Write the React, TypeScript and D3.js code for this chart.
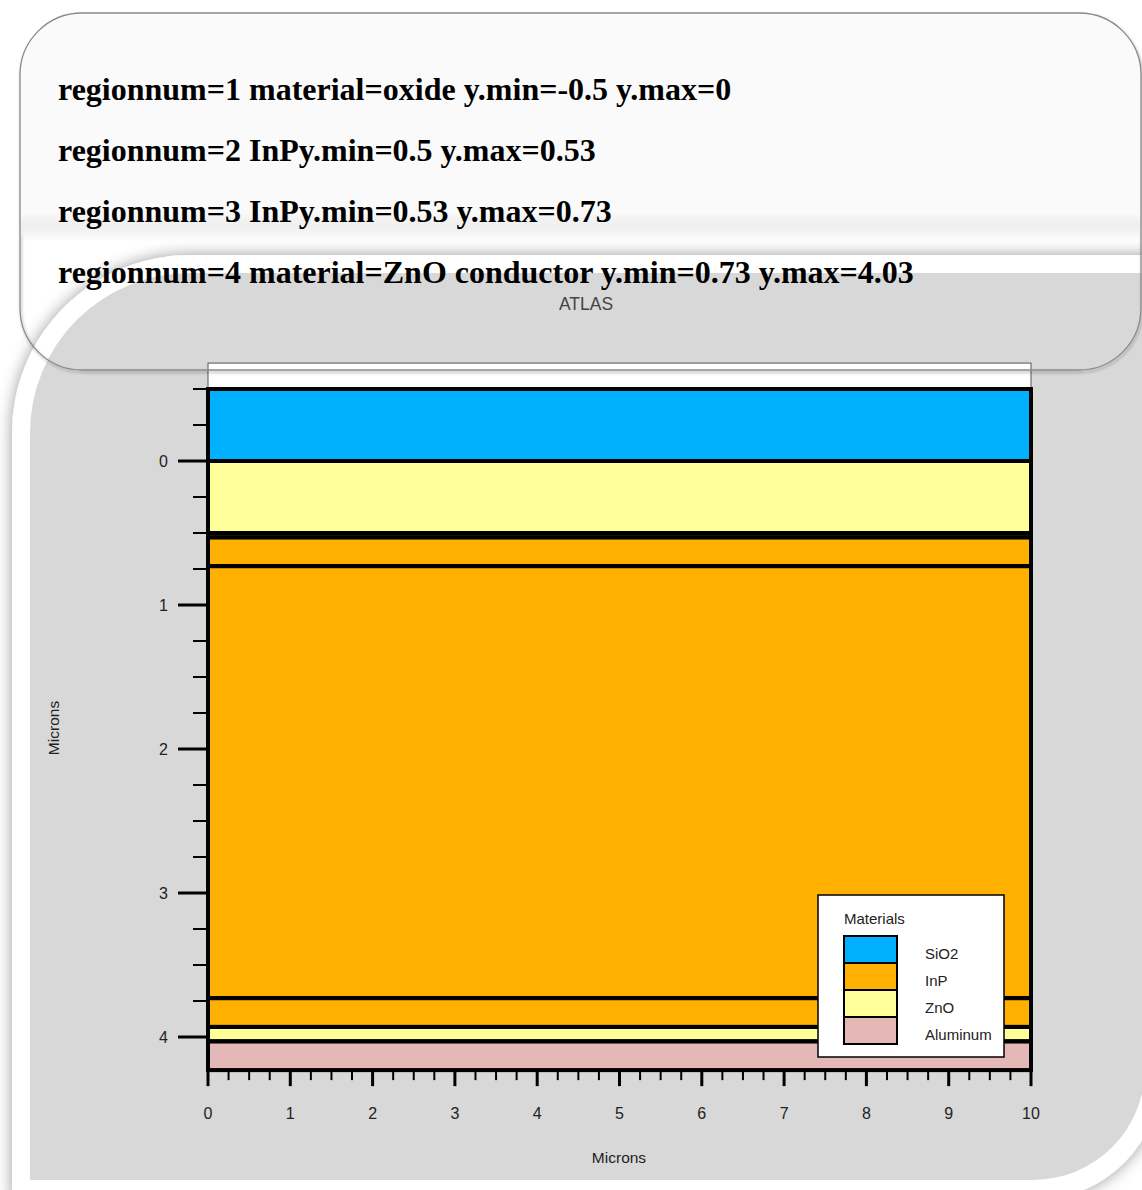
import React from "react";
import * as d3 from "d3";

// Region statements shown in the header card
const regionLines = [
  "regionnum=1 material=oxide y.min=-0.5 y.max=0",
  "regionnum=2 InPy.min=0.5 y.max=0.53",
  "regionnum=3 InPy.min=0.53 y.max=0.73",
  "regionnum=4 material=ZnO conductor y.min=0.73 y.max=4.03",
];

// Device layers (depth in microns)
const layerMaterial = ["SiO2", "ZnO", "InP", "InP", "InP", "InP", "ZnO", "Aluminum"];
const layerTop = [-0.5, 0, 0.5, 0.53, 0.73, 3.73, 3.93, 4.03];
const layerBottom = [0, 0.5, 0.53, 0.73, 3.73, 3.93, 4.03, 4.23];
const deviceWidth = [0, 10];

// Legend
const materialNames = ["SiO2", "InP", "ZnO", "Aluminum"];
const materialColors = ["#00b0ff", "#ffb000", "#ffff99", "#e5b8b8"];

// Axes
const xDomain = [0, 10];
const yDomain = [-0.68, 4.23];
const xMajorTicks = [0, 1, 2, 3, 4, 5, 6, 7, 8, 9, 10];
const yMajorTicks = [0, 1, 2, 3, 4];
const minorStep = 0.25;

const W = 1142;
const H = 1190;

export default function App() {
  const x = d3.scaleLinear().domain(xDomain).range([208, 1031]);
  const y = d3.scaleLinear().domain([0, 4]).range([461, 1037]);
  const color = d3.scaleOrdinal<string, string>().domain(materialNames).range(materialColors);

  const xMinor = d3.range(xDomain[0], xDomain[1] + 1e-9, minorStep).filter((v) => Math.abs(v - Math.round(v)) > 1e-6);
  const yMinor = d3.range(-0.5, yDomain[1], minorStep).filter((v) => Math.abs(v - Math.round(v)) > 1e-6);

  const plotLeft = x(xDomain[0]);
  const plotRight = x(xDomain[1]);
  const plotTop = y(yDomain[0]);
  const plotBottom = y(yDomain[1]);

  // backdrop panel outlines
  const panelPath = (l: number, t: number, r: number, b: number, rTL: number, rBR: number) => {
    const p = d3.path();
    p.moveTo(l, b);
    p.lineTo(l, t + rTL);
    p.arcTo(l, t, l + rTL, t, rTL);
    p.lineTo(r, t);
    p.lineTo(r, b - rBR);
    p.arcTo(r, b, r - rBR, b, rBR);
    p.closePath();
    return p.toString();
  };

  const legendX = 818;
  const legendY = 895;
  const swatchTop = 936;
  const swatchH = 27;

  const sans = "'Liberation Sans', Arial, sans-serif";

  return (
    <svg width={W} height={H} style={{ position: "absolute", left: 0, top: 0, display: "block" }}>
      <defs>
        <filter id="panelShadow" x="-10%" y="-10%" width="120%" height="120%">
          <feGaussianBlur in="SourceAlpha" stdDeviation="8" />
          <feComponentTransfer>
            <feFuncA type="linear" slope="0.4" />
          </feComponentTransfer>
          <feMerge>
            <feMergeNode />
            <feMergeNode in="SourceGraphic" />
          </feMerge>
        </filter>
        <filter id="cardShadow" x="-5%" y="-5%" width="110%" height="115%">
          <feGaussianBlur in="SourceAlpha" stdDeviation="1.5" />
          <feOffset dx="1" dy="2" />
          <feComponentTransfer>
            <feFuncA type="linear" slope="0.35" />
          </feComponentTransfer>
          <feMerge>
            <feMergeNode />
            <feMergeNode in="SourceGraphic" />
          </feMerge>
        </filter>
        <linearGradient id="cardFill" x1="0" y1="0" x2="0" y2="1">
          <stop offset="0" stopColor="#fafafa" stopOpacity="1" />
          <stop offset="0.56" stopColor="#fafafa" stopOpacity="1" />
          <stop offset="0.63" stopColor="#fafafa" stopOpacity="0" />
          <stop offset="1" stopColor="#fafafa" stopOpacity="0" />
        </linearGradient>
      </defs>

      <rect x={0} y={0} width={W} height={H} fill="#ffffff" />

      {/* backdrop panel with white rim */}
      <path d={panelPath(12, 255, 1162, 1200, 178, 128)} fill="#ffffff" filter="url(#panelShadow)" />
      <path d={panelPath(30, 273, 1145, 1180, 160, 112)} fill="#d8d8d8" />

      {/* chart title */}
      <text x={586} y={310} textAnchor="middle" fontFamily={sans} fontSize={17.5} fill="#444">
        ATLAS
      </text>

      {/* plot frame */}
      <rect x={plotLeft} y={plotTop} width={plotRight - plotLeft} height={plotBottom - plotTop} fill="#ffffff" stroke="#555" strokeWidth={1} />

      {/* layer fills */}
      {layerMaterial.map((m, i) => (
        <rect
          key={"f" + i}
          x={x(deviceWidth[0])}
          y={y(layerTop[i])}
          width={x(deviceWidth[1]) - x(deviceWidth[0])}
          height={y(layerBottom[i]) - y(layerTop[i])}
          fill={color(m)}
        />
      ))}
      {/* layer boundaries */}
      {layerMaterial.map((m, i) => (
        <rect
          key={"b" + i}
          x={x(deviceWidth[0])}
          y={y(layerTop[i])}
          width={x(deviceWidth[1]) - x(deviceWidth[0])}
          height={y(layerBottom[i]) - y(layerTop[i])}
          fill="none"
          stroke="#000"
          strokeWidth={4}
        />
      ))}

      {/* y axis ticks */}
      {yMinor.map((v) => (
        <line key={"ym" + v} x1={193} x2={plotLeft} y1={y(v)} y2={y(v)} stroke="#000" strokeWidth={2} />
      ))}
      {yMajorTicks.map((v) => (
        <g key={"yM" + v}>
          <line x1={178} x2={plotLeft} y1={y(v)} y2={y(v)} stroke="#000" strokeWidth={3} />
          <text x={168} y={y(v)} dy="0.36em" textAnchor="end" fontFamily={sans} fontSize={16} fill="#222">
            {v}
          </text>
        </g>
      ))}

      {/* x axis ticks */}
      <line x1={plotLeft - 1.5} x2={plotRight + 1.5} y1={plotBottom} y2={plotBottom} stroke="#000" strokeWidth={3} />
      {xMinor.map((v) => (
        <line key={"xm" + v} x1={x(v)} x2={x(v)} y1={plotBottom} y2={plotBottom + 10} stroke="#000" strokeWidth={2} />
      ))}
      {xMajorTicks.map((v) => (
        <g key={"xM" + v}>
          <line x1={x(v)} x2={x(v)} y1={plotBottom} y2={plotBottom + 16} stroke="#000" strokeWidth={3} />
          <text x={x(v)} y={1113} dy="0.36em" textAnchor="middle" fontFamily={sans} fontSize={16} fill="#222">
            {v}
          </text>
        </g>
      ))}

      {/* axis titles */}
      <text x={619} y={1157} dy="0.36em" textAnchor="middle" fontFamily={sans} fontSize={15.5} fill="#222">
        Microns
      </text>
      <text
        transform={`translate(53,728) rotate(-90)`}
        dy="0.36em"
        textAnchor="middle"
        fontFamily={sans}
        fontSize={15.5}
        fill="#222"
      >
        Microns
      </text>

      {/* legend */}
      <rect x={legendX} y={legendY} width={186} height={162} fill="#ffffff" stroke="#000" strokeWidth={1.5} />
      <text x={844} y={919} dy="0.36em" fontFamily={sans} fontSize={15} fill="#222">
        Materials
      </text>
      {materialNames.map((m, i) => (
        <g key={"lg" + m}>
          <rect x={844} y={swatchTop + i * swatchH} width={53} height={swatchH} fill={color(m)} stroke="#000" strokeWidth={2} />
          <text x={925} y={swatchTop + i * swatchH + 18} dy="0.36em" fontFamily={sans} fontSize={15} fill="#222">
            {m}
          </text>
        </g>
      ))}

      {/* header card */}
      <rect x={20} y={13} width={1121} height={357} rx={62} ry={62} fill="url(#cardFill)" stroke="#8a8a8a" strokeWidth={1.3} filter="url(#cardShadow)" />
      {regionLines.map((t, i) => (
        <text key={"r" + i} x={58} y={100 + i * 61} fontFamily="'Liberation Serif', 'Times New Roman', serif" fontWeight="bold" fontSize={32} fill="#000">
          {t}
        </text>
      ))}
    </svg>
  );
}
